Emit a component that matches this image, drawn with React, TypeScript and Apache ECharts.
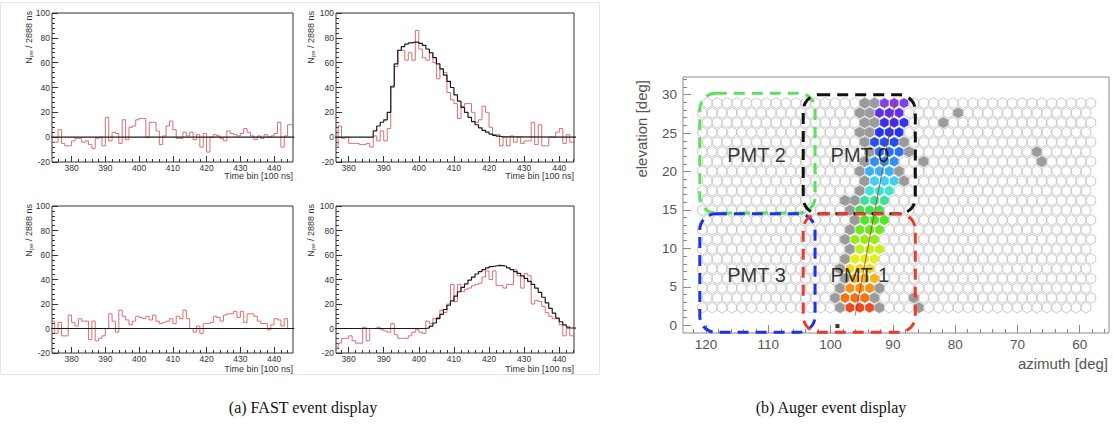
import React, { useEffect, useRef } from "react";
import * as echarts from "echarts";

// ---------------- FAST traces (time bins of 100 ns) ----------------
const binStart = 374;
const fastMajorTicks = [380, 390, 400, 410, 420, 430, 440];

// data (red) traces, bins 374..444
const tlRed = [-4, -4, 6, -5, -7, -7, -3, -1, -1, -4, -3, -6, -9, -1, 0, -7, 16, -3, 4, 3, -5, 14, -2, 8, 9, 14, 15, 15, 0, 12, 12, 5, -6, 1, 9, 13, 6, -1, -1, 4, 1, 4, -2, 2, -8, 3, -12, 0, 2, 1, -1, -3, 5, 3, 2, 1, 3, 7, 4, 1, -2, 1, -1, 2, 0, 1, 3, 12, -8, 1, 10];
const trRed = [0, 0, -8, 9, -1, 0, -5, -5, -5, -6, -6, -5, -8, 1, -3, 5, -3, 7, 40, 57, 70, 70, 62, 68, 62, 86, 71, 64, 62, 68, 60, 47, 55, 52, 36, 30, 27, 15, 25, 27, 27, 20, 12, 14, 25, 20, 8, 2, 2, -7, 0, -7, 1, -4, 0, -5, -3, -3, 12, -6, 10, -7, -7, 0, 0, 4, 7, -5, 2, -4, -2];
const blRed = [6, -4, 5, -6, -6, 11, 5, 2, 8, 6, 6, -9, 6, -10, -8, -6, 0, 12, 6, -3, 15, 10, 7, 3, 6, 10, 9, 8, 10, 7, 11, 6, 4, 5, 6, 8, 4, 10, 8, 15, 8, 0, -3, 2, -4, 4, 4, 5, 10, 9, 6, 11, 12, 12, 14, 9, 14, 5, 12, 12, 10, 6, 4, 4, -1, 3, 8, 7, 2, 8, 0];
const brRed = [-16, -16, -16, -12, -8, -8, -6, -10, -12, -12, 1, -10, 0, 0, 1, -1, -2, -3, 4, -5, -8, -8, -8, -6, -3, -1, -3, -4, 6, 4, 8, 9, 15, 13, 20, 36, 22, 36, 30, 32, 33, 35, 36, 37, 42, 47, 40, 47, 35, 35, 33, 36, 36, 48, 43, 33, 45, 43, 20, 23, 22, 18, 13, 10, 8, 8, 3, -6, 0, -6, -6];

// model (black) traces
const flatModelStart = 374;
const flatModel = [0];
const trModelStart = 386;
const trModel = [0, 5, 9, 12, 14, 20, 41, 59, 70, 73, 75, 76, 76.5, 76.5, 75.5, 74, 71, 68, 64, 59, 55, 50, 45, 40, 34, 29, 24, 20, 16, 12.5, 10, 7.5, 5.5, 4, 2.5, 1.5, 0.8, 0.3, 0];
const brModelStart = 401;
const brModel = [0, 0.5, 2, 4.5, 8, 11.5, 15.5, 19, 22.5, 26.5, 30, 33.5, 36.5, 39.5, 42, 44.5, 46.5, 48, 49.5, 50.5, 51, 51.5, 51.3, 50.8, 49.5, 48, 46.5, 45, 43, 41, 38.5, 36, 33, 29.5, 25.5, 21, 16.5, 12.5, 8.5, 5.5, 3, 1.2, 0.4, 0];

// ---------------- Auger FD camera ----------------
const colAzimuths = [120.6, 119.02, 117.44, 115.86, 114.28, 112.7, 111.12, 109.54, 107.96, 106.38, 104.8, 103.22, 101.64, 100.06, 98.48, 96.9, 95.32, 93.74, 92.16, 90.58, 89.0, 87.42, 85.84, 84.26, 82.68, 81.1, 79.52, 77.94, 76.36, 74.78, 73.2, 71.62, 70.04, 68.46, 66.88, 65.3, 63.72, 62.14, 60.56, 58.98];
const rowElevations = [2.3, 3.57, 4.83, 6.1, 7.37, 8.64, 9.9, 11.17, 12.44, 13.7, 14.97, 16.24, 17.5, 18.77, 20.04, 21.31, 22.57, 23.84, 25.11, 26.37, 27.64, 28.91];
const oddRowShift = 0.79;
const colStep = 1.58;
const rowStep = 1.267;

// triggered track pixels (by row, bottom to top): timing-coloured and grey
const trackHitCols = [
  [15, 16, 17], [14, 15, 16], [15, 16, 17], [15, 16, 17], [15, 16, 17], [15, 16, 17],
  [16, 17, 18], [15, 16, 17], [16, 17, 18], [16, 17, 18], [16, 17, 18], [16, 17, 18],
  [17, 18, 19], [17, 18, 19], [17, 18, 19], [17, 18, 19], [18, 19, 20], [17, 18, 19],
  [18, 19, 20], [18, 19, 20], [18, 19, 20], [18, 19, 20],
];
const trackGrayCols = [
  [14, 18], [13, 17], [14, 18], [14], [14], [14], [15], [14], [15], [15], [15], [14, 15],
  [16], [16, 20], [16, 20], [16], [17, 21], [16, 20], [16, 17], [16, 17], [16, 17], [16, 17],
];
const noisePixels = [[20, 26], [19, 24], [15, 22], [16, 34], [15, 34], [1, 21], [0, 22]];
const trackPalette = ["#ee4a1e", "#f27018", "#f4921a", "#f5b41c", "#f2d81e", "#e2ee1e", "#c2f020", "#98ec1e", "#72e61e", "#52e228", "#44e050", "#40e09a", "#40e2d2", "#40d0f0", "#3ab0f4", "#3290f4", "#2c70f2", "#2650ee", "#2436ea", "#3a2eea", "#6030e8", "#8040e6"];

const fitLine = [[89.62, 29.1], [96.05, 1.3]];
const stationMark = [[98.9, -0.1]];

const pmtNames = ["PMT 2", "PMT 0", "PMT 3", "PMT 1"];
const pmtBoxes = [
  [121.0, 102.5, 30.2, 14.6],
  [104.4, 86.4, 30.0, 14.5],
  [121.0, 102.5, 14.5, -0.9],
  [104.4, 86.4, 14.5, -0.9],
];
const pmtColors = ["#5fe05a", "#111111", "#1c34e6", "#ee3a2e"];
const pmtLabelPos = [[111.9, 22.2], [95.3, 22.2], [111.9, 6.5], [95.3, 6.5]];

const azTicks = [120, 110, 100, 90, 80, 70, 60];
const elTicks = [0, 5, 10, 15, 20, 25, 30];

// ---------------- helpers ----------------
function stepPoints(start: number, values: number[], lo: number, hi: number) {
  const pts: number[][] = [];
  if (lo < start) pts.push([lo, 0]);
  values.forEach((v, i) => pts.push([start + i, v]));
  pts.push([Math.max(hi, start + values.length), values[values.length - 1]]);
  return pts;
}

const FONT = "Liberation Sans";
const NO_LINE = { show: false, onZero: false };

export default function App() {
  const ref = useRef<HTMLDivElement>(null);

  useEffect(() => {
    if (!ref.current) return;
    const chart = echarts.init(ref.current, null, { renderer: "svg" });

    const fastGrids = [
      { left: 52, top: 13, width: 241, height: 149 },
      { left: 336, top: 13, width: 238, height: 149 },
      { left: 52, top: 206, width: 241, height: 147 },
      { left: 336, top: 206, width: 238, height: 147 },
    ];
    const fastX = [[374.2, 445.6], [376.4, 444.2], [374.2, 445.6], [376.4, 444.2]];
    const fastRed = [tlRed, trRed, blRed, brRed];
    const fastModel = [
      [flatModelStart, flatModel],
      [trModelStart, trModel],
      [flatModelStart, flatModel],
      [brModelStart, brModel],
    ] as [number, number[]][];

    const grid: any[] = fastGrids.map((g) => ({
      ...g,
      show: true,
      borderColor: "#333",
      borderWidth: 1,
      backgroundColor: "transparent",
    }));
    grid.push({ left: 683, top: 77, width: 426, height: 256, show: true, borderColor: "#8a8a8a", borderWidth: 1, backgroundColor: "transparent" });

    const xAxis: any[] = [];
    const yAxis: any[] = [];
    const series: any[] = [];

    fastGrids.forEach((_, i) => {
      const [mn, mx] = fastX[i];
      const minor: number[] = [];
      for (let v = 370; v <= 450; v += 2) if (v % 10 !== 0 && v > mn && v < mx) minor.push(v);
      xAxis.push({
        type: "value", gridIndex: i, position: "bottom", min: mn, max: mx,
        axisLine: NO_LINE,
        axisTick: { show: true, inside: true, length: 6, customValues: fastMajorTicks, lineStyle: { color: "#333" } },
        axisLabel: { show: true, customValues: fastMajorTicks, fontSize: 8.5, color: "#333", margin: 1, fontFamily: FONT },
        splitLine: { show: false },
      });
      xAxis.push({
        type: "value", gridIndex: i, position: "bottom", min: mn, max: mx,
        axisLine: NO_LINE,
        axisTick: { show: true, inside: true, length: 3, customValues: minor, lineStyle: { color: "#333" } },
        axisLabel: { show: false },
        splitLine: { show: false },
      });
      yAxis.push({
        type: "value", gridIndex: i, position: "left", min: -20, max: 100, interval: 20,
        axisLine: NO_LINE,
        axisTick: { show: true, inside: true, length: 6, lineStyle: { color: "#333" } },
        minorTick: { show: true, splitNumber: 5, length: 3, lineStyle: { color: "#333" } },
        axisLabel: { fontSize: 8.5, color: "#333", margin: 2, fontFamily: FONT, showMinLabel: true, showMaxLabel: true },
        splitLine: { show: false },
      });
      series.push({
        type: "line", xAxisIndex: 2 * i, yAxisIndex: i, step: "end", symbol: "none", showSymbol: false,
        data: stepPoints(binStart, fastRed[i], binStart, 446),
        lineStyle: { color: "#d9706f", width: 1 }, clip: true, z: 2, silent: true,
      });
      series.push({
        type: "line", xAxisIndex: 2 * i, yAxisIndex: i, step: "end", symbol: "none", showSymbol: false,
        data: stepPoints(fastModel[i][0], fastModel[i][1], binStart, 446),
        lineStyle: { color: "#1a1a1a", width: 1.2 }, clip: true, z: 3, silent: true,
      });
    });

    // Auger axes
    const azMinor: number[] = [];
    for (let v = 56; v <= 122; v += 2) if (v % 10 !== 0) azMinor.push(v);
    const elMinor: number[] = [];
    for (let v = 0; v <= 32; v += 1) if (v % 5 !== 0) elMinor.push(v);
    const axColor = "#8a8a8a";
    xAxis.push({
      type: "value", gridIndex: 4, position: "bottom", inverse: true, min: 55.3, max: 123.7,
      axisLine: NO_LINE,
      axisTick: { show: true, inside: true, length: 8, customValues: azTicks, lineStyle: { color: axColor } },
      axisLabel: { show: true, customValues: azTicks, fontSize: 13.5, color: "#555", margin: 4, fontFamily: FONT },
      splitLine: { show: false },
    });
    xAxis.push({
      type: "value", gridIndex: 4, position: "bottom", inverse: true, min: 55.3, max: 123.7,
      axisLine: NO_LINE,
      axisTick: { show: true, inside: true, length: 4, customValues: azMinor, lineStyle: { color: axColor } },
      axisLabel: { show: false },
      splitLine: { show: false },
    });
    yAxis.push({
      type: "value", gridIndex: 4, position: "left", min: -1, max: 32.3,
      axisLine: NO_LINE,
      axisTick: { show: true, inside: true, length: 8, customValues: elTicks, lineStyle: { color: axColor } },
      axisLabel: { show: true, customValues: elTicks, fontSize: 13.5, color: "#555", margin: 6, fontFamily: FONT },
      splitLine: { show: false },
    });
    yAxis.push({
      type: "value", gridIndex: 4, position: "left", min: -1, max: 32.3,
      axisLine: NO_LINE,
      axisTick: { show: true, inside: true, length: 4, customValues: elMinor, lineStyle: { color: axColor } },
      axisLabel: { show: false },
      splitLine: { show: false },
    });

    // camera cells
    const cells: number[][] = [];
    rowElevations.forEach((el, r) => {
      colAzimuths.forEach((az, j) => {
        let kind = 0;
        if (trackHitCols[r] && trackHitCols[r].includes(j)) kind = 2;
        else if (trackGrayCols[r] && trackGrayCols[r].includes(j)) kind = 1;
        else if (noisePixels.some((p) => p[0] === r && p[1] === j)) kind = 1;
        cells.push([az - (r % 2 ? oddRowShift : 0), el, kind, r]);
      });
    });

    series.push({
      type: "custom", coordinateSystem: "cartesian2d", xAxisIndex: 8, yAxisIndex: 4, z: 1, silent: true,
      data: cells,
      encode: { x: 0, y: 1 },
      renderItem: (params: any, api: any) => {
        const c = api.coord([api.value(0), api.value(1)]);
        const s = api.size([colStep, rowStep]);
        const sx = Math.abs(s[0]);
        const sy = Math.abs(s[1]);
        const R = Math.min(sx / Math.sqrt(3), sy / 1.5) * 0.95;
        const hw = (R * Math.sqrt(3)) / 2;
        const pts = [
          [c[0], c[1] - R], [c[0] + hw, c[1] - R / 2], [c[0] + hw, c[1] + R / 2],
          [c[0], c[1] + R], [c[0] - hw, c[1] + R / 2], [c[0] - hw, c[1] - R / 2],
        ];
        const kind = api.value(2);
        const row = api.value(3);
        let style: any;
        if (kind === 2) style = { fill: trackPalette[row], stroke: "rgba(255,255,255,0.7)", lineWidth: 0.8 };
        else if (kind === 1) style = { fill: "#9b9b9b", stroke: "#a8a8a8", lineWidth: 0.8 };
        else style = { fill: "#ffffff", stroke: "#c4c4c4", lineWidth: 0.9 };
        return { type: "polygon", shape: { points: pts }, style };
      },
    });

    series.push({
      type: "line", xAxisIndex: 8, yAxisIndex: 4, data: fitLine, symbol: "none", silent: true, z: 3,
      lineStyle: { color: "#a8322a", width: 0.9, opacity: 0.85 },
    });
    series.push({
      type: "scatter", xAxisIndex: 8, yAxisIndex: 4, data: stationMark, symbol: "rect", symbolSize: 4, silent: true, z: 3,
      itemStyle: { color: "#000" },
    });

    series.push({
      type: "custom", coordinateSystem: "cartesian2d", xAxisIndex: 8, yAxisIndex: 4, z: 4, silent: true,
      data: pmtBoxes.map((b, i) => [...b, i]),
      encode: { x: [0, 1], y: [2, 3] },
      renderItem: (params: any, api: any) => {
        const p1 = api.coord([api.value(0), api.value(2)]);
        const p2 = api.coord([api.value(1), api.value(3)]);
        const x = Math.min(p1[0], p2[0]);
        const y = Math.min(p1[1], p2[1]);
        const w = Math.abs(p2[0] - p1[0]);
        const h = Math.abs(p2[1] - p1[1]);
        return {
          type: "rect",
          shape: { x, y, width: w, height: h, r: 16 },
          style: { fill: "none", stroke: pmtColors[api.value(4)], lineWidth: 3, lineDash: [11, 7] },
        };
      },
    });

    series.push({
      type: "scatter", xAxisIndex: 8, yAxisIndex: 4, z: 5, silent: true, symbolSize: 1,
      itemStyle: { color: "transparent" },
      data: pmtNames.map((n, i) => ({ name: n, value: pmtLabelPos[i] })),
      label: { show: true, position: "inside", formatter: "{b}", fontSize: 20, color: "#000", fontFamily: FONT },
    });

    const npeTitle = (x: number, y: number) => ({
      type: "text", x, y, rotation: Math.PI / 2, silent: true,
      style: {
        text: "{n|N}{s|pe}{n| / 2888 ns}",
        rich: {
          n: { fontSize: 9, fill: "#333", fontFamily: FONT },
          s: { fontSize: 6, fill: "#333", fontFamily: FONT, verticalAlign: "bottom" },
        },
        align: "right", verticalAlign: "middle",
      },
    });
    const timeTitle = (x: number, y: number) => ({
      type: "text", x, y, silent: true,
      style: { text: "Time bin [100 ns]", fontSize: 9, fill: "#333", fontFamily: FONT, align: "right", verticalAlign: "middle" },
    });

    const graphic: any[] = [
      { type: "rect", silent: true, z: -1, shape: { x: 0.5, y: 2.5, width: 599, height: 372 }, style: { fill: "none", stroke: "#e4e4e4", lineWidth: 1 } },
      npeTitle(29, 11), npeTitle(311, 11), npeTitle(29, 204), npeTitle(311, 204),
      timeTitle(293, 176), timeTitle(574, 176), timeTitle(293, 368.5), timeTitle(574, 368.5),
      {
        type: "text", x: 641, y: 80, rotation: Math.PI / 2, silent: true,
        style: { text: "elevation [deg]", fontSize: 15, fill: "#555", fontFamily: FONT, align: "right", verticalAlign: "middle" },
      },
      {
        type: "text", x: 1108, y: 363, silent: true,
        style: { text: "azimuth [deg]", fontSize: 15, fill: "#555", fontFamily: FONT, align: "right", verticalAlign: "middle" },
      },
      {
        type: "text", x: 303, y: 407, silent: true,
        style: { text: "(a) FAST event display", fontSize: 16, fill: "#111", fontFamily: "Liberation Serif", align: "center", verticalAlign: "middle" },
      },
      {
        type: "text", x: 831, y: 407, silent: true,
        style: { text: "(b) Auger event display", fontSize: 16, fill: "#111", fontFamily: "Liberation Serif", align: "center", verticalAlign: "middle" },
      },
    ];

    chart.setOption({
      animation: false,
      backgroundColor: "#ffffff",
      textStyle: { fontFamily: FONT },
      tooltip: { show: false },
      grid, xAxis, yAxis, series, graphic,
    });

    return () => chart.dispose();
  }, []);

  return (
    <div
      ref={ref}
      style={{ position: "absolute", left: 0, top: 0, width: 1113, height: 425, background: "#fff" }}
    />
  );
}
